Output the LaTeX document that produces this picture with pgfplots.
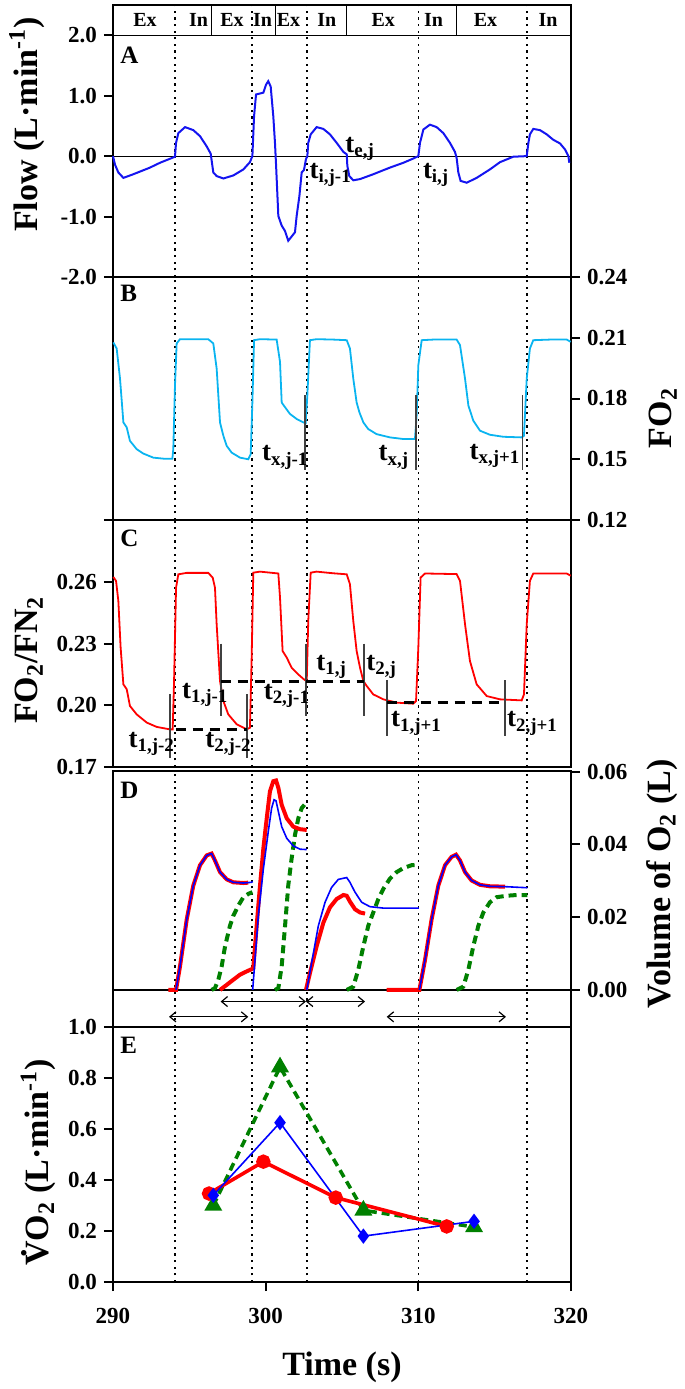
\documentclass[border=0pt]{standalone}
\usepackage{fontspec}
\setmainfont{Liberation Serif}
\usepackage{pgfplots}
\pgfplotsset{compat=1.18}
\usetikzlibrary{arrows.meta}
\definecolor{flowblue}{RGB}{20,20,240}
\definecolor{focyan}{RGB}{10,180,240}
\definecolor{dgreen}{RGB}{0,128,0}
\newcommand{\tk}{\fontsize{11.5}{12}\selectfont\bfseries}
\newcommand{\lb}{\fontsize{17}{18}\selectfont\bfseries}
\newcommand{\an}{\fontsize{13.5}{14}\selectfont\bfseries}
\newcommand{\pl}{\fontsize{12.5}{13}\selectfont\bfseries}
\newcommand{\ei}{\fontsize{10}{11}\selectfont\bfseries}
\newcommand{\Vdot}{\rlap{\hbox to 0.722em{\hss\raisebox{0.66em}{.}\hss}}V}
\newcommand{\dottedlines}{%
  \pgfplotsinvokeforeach{294.06,299.1,302.7,310.0,317.1}{%
    \draw[black, line width=0.8pt, dash pattern=on 1.1pt off 2.2pt]
      ({axis cs:##1,0}|-{rel axis cs:0,0}) -- ({axis cs:##1,0}|-{rel axis cs:0,1});}}
\pgfplotsset{panel/.style={width=229pt, scale only axis, xmin=290, xmax=320,
  axis line style={line width=1.3pt}, tick style={line width=1pt, black},
  major tick length=4.5pt, tick align=outside, ticklabel style={font=\tk},
  scaled y ticks=false, scaled x ticks=false,
  /pgf/number format/assume math mode=true, xtick=\empty, clip=false,
  ylabel style={font=\lb, anchor=center}}}
\tikzset{vmark/.style={line width=0.9pt, black!75}, hdash/.style={line width=1.6pt, dash pattern=on 5pt off 3.5pt},
  arr/.style={line width=0.6pt, {Straight Barb[length=3pt,width=5pt]}-{Straight Barb[length=3pt,width=5pt]}}}
\begin{document}
\begin{tikzpicture}
\path[use as bounding box] (-56.5pt,2.5pt) rectangle (286pt,-692pt);
% ---------------- A
\begin{axis}[panel, at={(0pt,0pt)}, anchor=north west, height=136pt,
  ymin=-2, ymax=2.5, ytick={-2,-1,0,1,2}, yticklabels={-2.0,-1.0,0.0,1.0,2.0}, ytick pos=left,
  ylabel={Flow (L·min\textsuperscript{-1})},
  ylabel style={at={(axis description cs:-0.1878,0.56)}}]
\dottedlines
\draw[line width=0.6pt] (axis cs:290,2) -- (axis cs:320,2);
\draw[line width=0.6pt] (axis cs:290,0) -- (axis cs:320,0);
\foreach \s in {296.46,300.67,305.3,312.5} {\edef\tmp{\noexpand\draw[line width=0.6pt] (axis cs:\s,2) -- (axis cs:\s,2.5);}\tmp}
\node[font=\ei] at (axis cs:292.1,2.25) {Ex};
\node[font=\ei] at (axis cs:295.6,2.25) {In};
\node[font=\ei] at (axis cs:297.8,2.25) {Ex};
\node[font=\ei] at (axis cs:299.8,2.25) {In};
\node[font=\ei] at (axis cs:301.5,2.25) {Ex};
\node[font=\ei] at (axis cs:304.0,2.25) {In};
\node[font=\ei] at (axis cs:307.7,2.25) {Ex};
\node[font=\ei] at (axis cs:311.0,2.25) {In};
\node[font=\ei] at (axis cs:314.4,2.25) {Ex};
\node[font=\ei] at (axis cs:318.5,2.25) {In};
\node[font=\pl, anchor=north west, inner sep=0] at (rel axis cs:0.015,0.846) {A};
\addplot[flowblue, line width=1pt] coordinates {
(290.0,0) (290.13,-0.14) (290.35,-0.27) (290.68,-0.36) (291.33,-0.30) (292.42,-0.19) (293.08,-0.11) (294.06,-0.01)
(294.13,0.22) (294.28,0.38) (294.72,0.48) (295.26,0.43) (295.70,0.33) (296.14,0.16) (296.40,0.04) (296.51,-0.16)
(296.57,-0.27) (296.79,-0.33) (297.23,-0.37) (297.88,-0.32) (298.54,-0.22) (298.97,-0.10) (299.13,0)
(299.24,0.66) (299.37,1.02) (299.85,1.05) (300.02,1.18) (300.17,1.24) (300.33,1.15) (300.50,0.66) (300.61,0.22)
(300.68,-0.14) (300.83,-0.99) (301.05,-1.15) (301.27,-1.24) (301.48,-1.40) (301.64,-1.35) (301.92,-1.26)
(302.03,-0.99) (302.21,-0.66) (302.36,-0.27) (302.51,-0.23) (302.64,-0.05) (302.73,0)
(302.79,0.22) (302.95,0.36) (303.34,0.48) (303.78,0.45) (304.21,0.36) (304.65,0.22) (305.09,0.07) (305.31,0.03)
(305.35,-0.16) (305.48,-0.33) (305.74,-0.40) (306.18,-0.38) (307.05,-0.30) (308.14,-0.19) (309.02,-0.11) (309.67,-0.04) (310.0,0)
(310.11,0.22) (310.33,0.44) (310.76,0.52) (311.2,0.48) (311.64,0.38) (312.07,0.22) (312.4,0.07) (312.51,-0.03)
(312.62,-0.27) (312.77,-0.41) (313.17,-0.44) (313.82,-0.36) (314.69,-0.22) (315.35,-0.10) (316.22,-0.01) (317.1,0)
(317.21,0.22) (317.31,0.36) (317.53,0.45) (317.97,0.43) (318.41,0.36) (318.84,0.27) (319.28,0.21) (319.61,0.11)
(319.83,0) (319.89,-0.11)};
\node[font=\an, anchor=base west, inner sep=0] at (axis cs:305.2,0.066) {t\textsubscript{e,j}};
\node[font=\an, anchor=base west, inner sep=0] at (axis cs:302.86,-0.37) {t\textsubscript{i,j-1}};
\node[font=\an, anchor=base west, inner sep=0] at (axis cs:310.28,-0.37) {t\textsubscript{i,j}};
\end{axis}
% ---------------- B
\begin{axis}[panel, at={(0pt,-136pt)}, anchor=north west, height=121.5pt,
  ymin=0.12, ymax=0.24, ytick={0.12,0.15,0.18,0.21,0.24}, yticklabels={0.12,0.15,0.18,0.21,0.24},
  ytick pos=right, yticklabel pos=right, ylabel={FO\textsubscript{2}},
  ylabel style={at={(axis description cs:1.2009,0.42)}}]
\dottedlines
\node[font=\pl, anchor=north west, inner sep=0] at (rel axis cs:0.015,0.967) {B};
\addplot[focyan, line width=0.9pt] coordinates {
(290.02,0.2077) (290.24,0.2047) (290.46,0.1898) (290.68,0.1682) (290.9,0.1657) (291.11,0.1591) (291.55,0.155)
(291.99,0.1528) (292.64,0.1508) (293.3,0.1503) (293.89,0.1503) (293.95,0.155) (294.06,0.1863) (294.17,0.2072)
(294.39,0.2093) (295.26,0.2093) (296.24,0.2093) (296.57,0.2072) (296.79,0.1948) (297.01,0.1682) (297.23,0.1616)
(297.45,0.1566) (297.77,0.1533) (298.32,0.1508) (298.86,0.15) (299.02,0.1525) (299.13,0.178) (299.24,0.2088)
(299.63,0.2093) (300.72,0.2091) (300.94,0.1981) (301.05,0.178) (301.27,0.1757) (301.59,0.1724) (302.03,0.1699)
(302.47,0.1682) (302.62,0.1679) (302.73,0.1815) (302.9,0.2088) (303.34,0.2093) (304.43,0.2091) (305.31,0.2088)
(305.52,0.2047) (305.74,0.1898) (305.96,0.178) (306.14,0.1732) (306.40,0.1682) (306.72,0.1649) (307.27,0.1624)
(308.14,0.1608) (309.02,0.16) (309.78,0.16) (309.89,0.1716) (310.0,0.1964) (310.22,0.2088) (310.98,0.2091)
(312.51,0.2091) (312.73,0.2064) (313.06,0.1898) (313.28,0.1765) (313.6,0.1691) (314.04,0.1641) (314.69,0.1621)
(315.57,0.1611) (316.77,0.1608) (316.92,0.1616) (317.1,0.1898) (317.31,0.2047) (317.53,0.2088) (318.62,0.2091)
(319.72,0.2091) (319.98,0.208)};
\draw[vmark] (axis cs:302.58,0.1815) -- (axis cs:302.58,0.1449);
\draw[vmark] (axis cs:309.83,0.1815) -- (axis cs:309.83,0.1449);
\draw[vmark] (axis cs:316.83,0.1815) -- (axis cs:316.83,0.1449);
\node[font=\an, anchor=base west, inner sep=0] at (axis cs:299.74,0.1492) {t\textsubscript{x,j-1}};
\node[font=\an, anchor=base west, inner sep=0] at (axis cs:307.38,0.1492) {t\textsubscript{x,j}};
\node[font=\an, anchor=base west, inner sep=0] at (axis cs:313.34,0.150) {t\textsubscript{x,j+1}};
\end{axis}
% ---------------- C
\begin{axis}[panel, at={(0pt,-257.5pt)}, anchor=north west, height=123.5pt,
  ymin=0.17, ymax=0.2901, ytick={0.17,0.20,0.23,0.26,0.29}, yticklabels={0.17,0.20,0.23,0.26,{}},
  ytick pos=left, ylabel={FO\textsubscript{2}/FN\textsubscript{2}},
  ylabel style={at={(axis description cs:-0.1834,0.433)}}]
\dottedlines
\node[font=\pl, anchor=north west, inner sep=0] at (rel axis cs:0.015,0.96) {C};
\addplot[red, line width=0.9pt] coordinates {
(290.02,0.2624) (290.2,0.2605) (290.35,0.2508) (290.5,0.2281) (290.68,0.2102) (290.9,0.2078) (291.11,0.1997)
(291.55,0.1956) (292.21,0.1916) (292.86,0.1895) (293.73,0.1883) (293.91,0.1883) (294.0,0.2118) (294.13,0.2572)
(294.28,0.2637) (294.83,0.2644) (296.24,0.2644) (296.53,0.2621) (296.68,0.2572) (296.79,0.2394) (297.01,0.2118)
(297.23,0.2021) (297.55,0.1956) (298.10,0.1908) (298.76,0.1883) (298.97,0.1891) (299.08,0.222) (299.19,0.2645)
(299.63,0.265) (300.83,0.2641) (300.94,0.2524) (301.11,0.2264) (301.38,0.2232) (301.70,0.2183) (302.14,0.215)
(302.51,0.2126) (302.69,0.2118) (302.79,0.241) (302.95,0.2645) (303.34,0.265) (304.43,0.2642) (305.31,0.2637)
(305.52,0.2589) (305.74,0.241) (305.96,0.2264) (306.18,0.2183) (306.4,0.2118) (306.62,0.2094) (307.05,0.2053)
(307.71,0.2029) (308.58,0.2013) (309.67,0.2008) (309.85,0.2021) (310.0,0.2281) (310.15,0.2621) (310.44,0.2641)
(312.51,0.2638) (312.73,0.2605) (313.06,0.2394) (313.38,0.2216) (313.82,0.2102) (314.48,0.2045) (315.35,0.2029)
(316.77,0.2024) (316.92,0.2053) (317.1,0.2394) (317.31,0.2605) (317.53,0.2641) (319.72,0.2641) (319.98,0.263)};
\draw[vmark] (axis cs:293.73,0.2053) -- (axis cs:293.73,0.1745);
\draw[vmark] (axis cs:297.05,0.23) -- (axis cs:297.05,0.1948);
\draw[vmark] (axis cs:298.8,0.2053) -- (axis cs:298.8,0.1745);
\draw[vmark] (axis cs:302.62,0.23) -- (axis cs:302.62,0.1948);
\draw[vmark] (axis cs:306.46,0.23) -- (axis cs:306.46,0.1948);
\draw[vmark] (axis cs:307.93,0.2122) -- (axis cs:307.93,0.1851);
\draw[vmark] (axis cs:315.68,0.2122) -- (axis cs:315.68,0.1851);
\draw[hdash] (axis cs:294.1,0.1883) -- (axis cs:298.8,0.1883);
\draw[hdash] (axis cs:297.05,0.2115) -- (axis cs:306.46,0.2115);
\draw[hdash] (axis cs:307.93,0.2013) -- (axis cs:315.68,0.2013);
\node[font=\an, anchor=base west, inner sep=0] at (axis cs:291.0,0.1797) {t\textsubscript{1,j-2}};
\node[font=\an, anchor=base west, inner sep=0] at (axis cs:296.03,0.1797) {t\textsubscript{2,j-2}};
\node[font=\an, anchor=base west, inner sep=0] at (axis cs:294.5,0.2034) {t\textsubscript{1,j-1}};
\node[font=\an, anchor=base west, inner sep=0] at (axis cs:299.85,0.2029) {t\textsubscript{2,j-1}};
\node[font=\an, anchor=base west, inner sep=0] at (axis cs:303.3,0.217) {t\textsubscript{1,j}};
\node[font=\an, anchor=base west, inner sep=0] at (axis cs:306.57,0.217) {t\textsubscript{2,j}};
\node[font=\an, anchor=base west, inner sep=0] at (axis cs:308.19,0.1895) {t\textsubscript{1,j+1}};
\node[font=\an, anchor=base west, inner sep=0] at (axis cs:315.79,0.1895) {t\textsubscript{2,j+1}};
\end{axis}
% ---------------- D
\begin{axis}[panel, at={(0pt,-383pt)}, anchor=north west, height=128pt,
  ymin=-0.0102, ymax=0.0602, ytick={0,0.02,0.04,0.06}, yticklabels={0.00,0.02,0.04,0.06},
  ytick pos=right, yticklabel pos=right, ylabel={Volume of O\textsubscript{2} (L)},
  ylabel style={at={(axis description cs:1.1987,0.56)}}]
\dottedlines
\draw[line width=0.6pt] (axis cs:290,0) -- (axis cs:320,0);
\node[font=\pl, anchor=north west, inner sep=0] at (rel axis cs:0.015,0.957) {D};
% green dashed
\addplot[dgreen, line width=2pt, dash pattern=on 4pt off 2.5pt] coordinates {
(296.46,0) (296.68,0.0005) (296.9,0.0028) (297.12,0.0065) (297.34,0.012) (297.66,0.0176) (297.88,0.0204)
(298.21,0.0232) (298.54,0.0255) (298.86,0.0264) (299.13,0.0269)};
\addplot[dgreen, line width=2pt, dash pattern=on 4pt off 2.5pt] coordinates {
(300.61,0) (300.83,0.0005) (301.05,0.0065) (301.27,0.0176) (301.48,0.0287) (301.70,0.0361) (301.92,0.0426)
(302.14,0.0472) (302.36,0.05) (302.58,0.0511) (302.73,0.0514)};
\addplot[dgreen, line width=2pt, dash pattern=on 4pt off 2.5pt] coordinates {
(305.31,0) (305.74,0.0009) (306.07,0.0056) (306.40,0.012) (306.72,0.0176) (307.05,0.0213) (307.38,0.025)
(307.71,0.0278) (308.14,0.0306) (308.58,0.0324) (309.02,0.0335) (309.56,0.0343) (310.04,0.0344)};
\addplot[dgreen, line width=2pt, dash pattern=on 4pt off 2.5pt] coordinates {
(312.51,0) (312.95,0.0009) (313.28,0.0056) (313.6,0.012) (313.93,0.0176) (314.26,0.0213) (314.69,0.0241)
(315.13,0.0255) (315.79,0.0259) (316.44,0.0261) (317.14,0.0261)};
% red thick
\addplot[red, line width=2pt] coordinates {
(293.62,0) (294.13,0) (294.39,0.0065) (294.83,0.0194) (295.26,0.0287) (295.70,0.0343) (296.14,0.037)
(296.46,0.0375) (296.68,0.0356) (297.01,0.0324) (297.45,0.0304) (297.88,0.0296) (298.54,0.0294) (298.86,0.0295)};
\addplot[red, line width=2pt] coordinates {
(297.01,0) (297.45,0.0014) (297.88,0.0028) (298.32,0.0042) (298.76,0.0051) (299.08,0.0057) (299.19,0.006)
(299.41,0.0176) (299.63,0.0287) (299.85,0.0389) (300.07,0.0472) (300.28,0.0546) (300.50,0.0574) (300.68,0.0576)
(300.83,0.0556) (301.05,0.0509) (301.38,0.0472) (301.81,0.0449) (302.25,0.0442) (302.69,0.044)};
\addplot[red, line width=2pt] coordinates {
(302.64,0) (302.9,0.0046) (303.34,0.012) (303.78,0.0185) (304.21,0.0227) (304.65,0.025) (305.09,0.0261)
(305.31,0.0259) (305.52,0.0243) (305.85,0.0222) (306.18,0.0213) (306.51,0.021)};
\addplot[red, line width=2pt] coordinates {
(307.93,0) (310.07,0) (310.44,0.0083) (310.87,0.0194) (311.31,0.0287) (311.75,0.0343) (312.18,0.0366)
(312.47,0.0372) (312.73,0.0356) (313.06,0.0324) (313.49,0.0301) (314.04,0.0289) (314.69,0.0285) (315.68,0.0284)};
% blue thin
\addplot[blue, line width=0.8pt] coordinates {
(294.13,0) (294.39,0.0065) (294.83,0.0194) (295.26,0.0287) (295.70,0.0343) (296.14,0.037)
(296.46,0.0375) (296.68,0.0356) (297.01,0.0324) (297.45,0.0304) (297.88,0.0296) (298.54,0.0294) (299.08,0.0296) (299.15,0.0298)};
\addplot[blue, line width=0.8pt] coordinates {
(299.15,0) (299.3,0.0083) (299.52,0.0204) (299.85,0.0333) (300.17,0.0435) (300.39,0.05) (300.55,0.0523)
(300.68,0.052) (300.83,0.0491) (301.05,0.0449) (301.38,0.0417) (301.81,0.0396) (302.25,0.0387) (302.69,0.0386)};
\addplot[blue, line width=0.8pt] coordinates {
(302.69,0) (303.01,0.0074) (303.45,0.0176) (303.89,0.0241) (304.32,0.0282) (304.76,0.0304) (305.31,0.0309)
(305.52,0.0296) (305.85,0.0269) (306.29,0.0241) (306.83,0.0229) (307.71,0.0225) (308.8,0.0225) (310.04,0.0225)};
\addplot[blue, line width=0.8pt] coordinates {
(310.07,0) (310.44,0.0083) (310.87,0.0194) (311.31,0.0287) (311.75,0.0343) (312.18,0.0366)
(312.47,0.0372) (312.73,0.0356) (313.06,0.0324) (313.49,0.0301) (314.04,0.0289) (314.69,0.0285) (315.68,0.0284) (317.14,0.0281)};
% arrows
\draw[arr] (axis cs:297.05,-0.0032) -- (axis cs:302.64,-0.0032);
\draw[arr] (axis cs:302.64,-0.0032) -- (axis cs:306.51,-0.0032);
\draw[arr] (axis cs:293.67,-0.0074) -- (axis cs:298.86,-0.0074);
\draw[arr] (axis cs:307.93,-0.0074) -- (axis cs:315.74,-0.0074);
\end{axis}
% ---------------- E
\begin{axis}[panel, at={(0pt,-511pt)}, anchor=north west, height=127.5pt,
  ymin=0, ymax=1, ytick={0,0.2,0.4,0.6,0.8,1.0}, yticklabels={0.0,0.2,0.4,0.6,0.8,1.0}, ytick pos=left,
  xtick={290,300,310,320}, xticklabels={290,300,310,320}, xtick pos=lower,
  xticklabel style={yshift=-5pt},
  xlabel={Time (s)}, xlabel style={font=\lb, at={(axis description cs:0.5,-0.333)}, anchor=center},
  ylabel={\Vdot O\textsubscript{2} (L·min\textsuperscript{-1})},
  ylabel style={at={(axis description cs:-0.163,0.47)}}]
\dottedlines
\node[font=\pl, anchor=north west, inner sep=0] at (rel axis cs:0.015,0.96) {E};
\addplot[dgreen, line width=1.8pt, dash pattern=on 4pt off 2.5pt, mark=triangle*, mark size=3.4pt, mark options={solid}] coordinates {
(296.57,0.30) (300.94,0.843) (306.40,0.281) (313.65,0.216)};
\addplot[red, line width=1.8pt, mark=*, mark size=2.7pt] coordinates {
(296.29,0.347) (299.85,0.472) (304.59,0.331) (311.86,0.218)};
\addplot[blue, line width=0.8pt, mark=diamond*, mark size=3.2pt] coordinates {
(296.57,0.340) (300.94,0.625) (306.40,0.180) (313.65,0.238)};
\end{axis}
\end{tikzpicture}
\end{document}
